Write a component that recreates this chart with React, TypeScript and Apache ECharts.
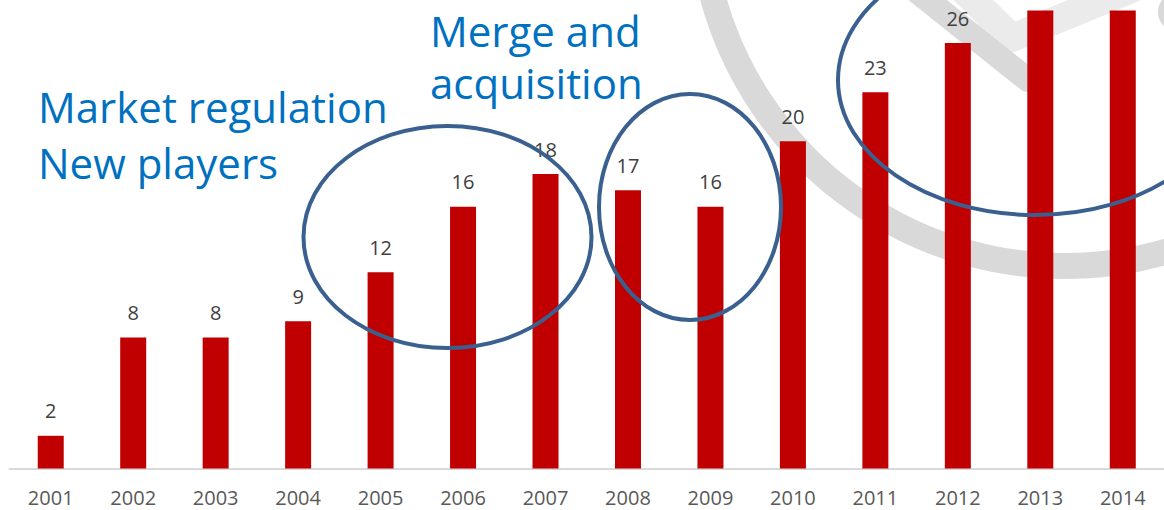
import React, { useEffect, useRef } from "react";
import * as echarts from "echarts";

const years = ["2001", "2002", "2003", "2004", "2005", "2006", "2007", "2008", "2009", "2010", "2011", "2012", "2013", "2014"];
const values = [2, 8, 8, 9, 12, 16, 18, 17, 16, 20, 23, 26, 28, 28];
const hiddenLabelYears = ["2013", "2014"];
const noteMarket = ["Market regulation", "New players"];
const noteMerge = ["Merge and", "acquisition"];

const FONT = "'Open Sans', 'Noto Sans', sans-serif";
const BLUE_TEXT = "#0070C0";
const ELLIPSE = "#3A6090";

export default function App() {
  const ref = useRef<HTMLDivElement>(null);
  useEffect(() => {
    if (!ref.current) return;
    const chart = echarts.init(ref.current, null, { renderer: "svg" });
    const note = (text: string, x: number, y: number) => ({
      type: "text",
      z: 50,
      x,
      y,
      style: { text, fill: BLUE_TEXT, font: `42px ${FONT}`, lineHeight: 40, verticalAlign: "middle" },
    });
    chart.setOption({
      animation: false,
      backgroundColor: "#ffffff",
      grid: { left: 9.5, right: 0, top: 10.4, bottom: 41.5, outerBoundsMode: "none" },
      xAxis: {
        type: "category",
        data: years,
        axisTick: { show: false },
        axisLine: { show: true, lineStyle: { color: "#d9d9d9", width: 2 } },
        axisLabel: { color: "#595959", fontSize: 20, lineHeight: 20, fontFamily: FONT, margin: 19 },
      },
      yAxis: { type: "value", min: 0, max: 28, show: false, splitLine: { show: false } },
      series: [
        {
          type: "bar",
          barWidth: 26,
          z: 5,
          itemStyle: { color: "#C00000" },
          label: {
            show: true,
            position: "top",
            distance: 15,
            color: "#404040",
            fontSize: 20,
            fontFamily: FONT,
          },
          data: values.map((v, i) =>
            hiddenLabelYears.includes(years[i]) ? { value: v, label: { show: false } } : v
          ),
        },
      ],
      graphic: [
        { type: "ring", z: 0, shape: { cx: 1065, cy: -99, r: 378, r0: 352 }, style: { fill: "#d9d9d9" } },
        { type: "polyline", z: 0, shape: { points: [[958, -15], [1012, 38], [1178, -30]] }, style: { stroke: "#ebebeb", lineWidth: 28, lineCap: "round", lineJoin: "round", fill: "none" } },
        { type: "line", z: 1, shape: { x1: 905, y1: -18, x2: 1028, y2: 80 }, style: { stroke: "#d9d9d9", lineWidth: 24, lineCap: "round" } },
        { type: "circle", z: 1, shape: { cx: 1178, cy: 12, r: 20 }, style: { fill: "#d9d9d9" } },
        note(noteMarket[0], 38, 106),
        note(noteMarket[1], 38, 162),
        note(noteMerge[0], 430, 30.5),
        note(noteMerge[1], 430, 82),
        { type: "ellipse", z: 100, shape: { cx: 447.5, cy: 237, rx: 144, ry: 111 }, style: { fill: "none", stroke: ELLIPSE, lineWidth: 4 } },
        { type: "ellipse", z: 100, shape: { cx: 690, cy: 207, rx: 91, ry: 113 }, style: { fill: "none", stroke: ELLIPSE, lineWidth: 4 } },
        { type: "ellipse", z: 100, shape: { cx: 1035, cy: 80, rx: 197, ry: 135 }, style: { fill: "none", stroke: ELLIPSE, lineWidth: 4 } },
      ],
    });
    return () => chart.dispose();
  }, []);
  return <div ref={ref} style={{ position: "absolute", left: 0, top: 0, width: 1164, height: 510 }} />;
}
